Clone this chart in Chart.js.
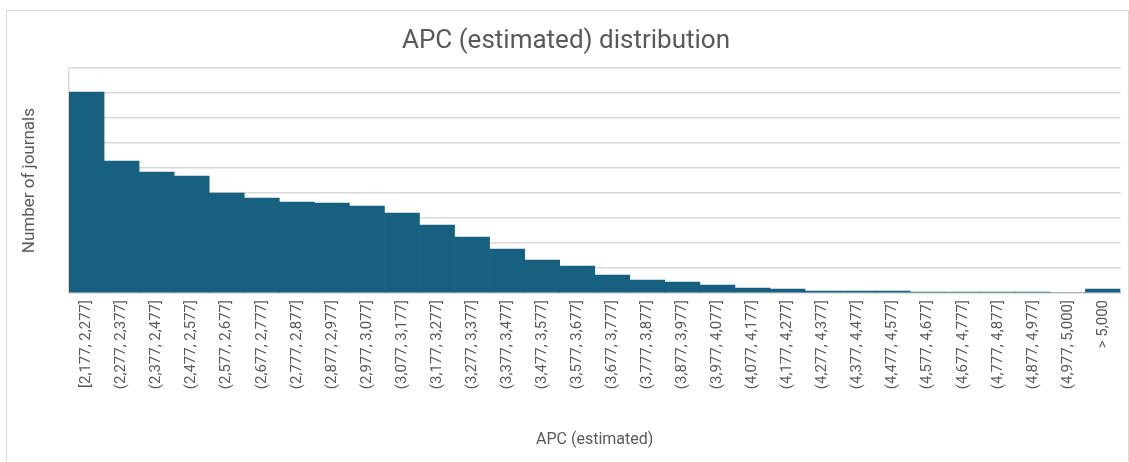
<!DOCTYPE html>
<html>
<head>
<meta charset="utf-8">
<script src="https://cdn.jsdelivr.net/npm/chart.js@4.4.0/dist/chart.umd.min.js"></script>
<style>
  html, body { margin: 0; padding: 0; background: #fff; }
  #box { position: absolute; left: 6px; top: 10px; width: 1121px; height: 450px; border: 1px solid #d9d9d9; border-bottom: none; }
  #box canvas { display: block; }
</style>
</head>
<body>
<div id="box"><canvas id="apcChart" width="1121" height="450"></canvas></div>
<script>
// bins of the estimated APC
const bins = [
  '[2,177, 2,277]', '(2,277, 2,377]', '(2,377, 2,477]', '(2,477, 2,577]', '(2,577, 2,677]',
  '(2,677, 2,777]', '(2,777, 2,877]', '(2,877, 2,977]', '(2,977, 3,077]', '(3,077, 3,177]',
  '(3,177, 3,277]', '(3,277, 3,377]', '(3,377, 3,477]', '(3,477, 3,577]', '(3,577, 3,677]',
  '(3,677, 3,777]', '(3,777, 3,877]', '(3,877, 3,977]', '(3,977, 4,077]', '(4,077, 4,177]',
  '(4,177, 4,277]', '(4,277, 4,377]', '(4,377, 4,477]', '(4,477, 4,577]', '(4,577, 4,677]',
  '(4,677, 4,777]', '(4,777, 4,877]', '(4,877, 4,977]', '(4,977, 5,000]', '> 5,000'
];

// number of journals per bin
const journals = [
  201, 132, 121, 117, 100, 95, 91, 90, 87, 80,
  68, 56, 44, 33, 27, 18, 13, 11, 8, 5,
  4, 2, 2, 2, 1, 1, 1, 1, 0, 4
];

const yMax = 225;
const yStep = 25;

const grey = '#595959';

new Chart(document.getElementById('apcChart'), {
  type: 'bar',
  data: {
    labels: bins,
    datasets: [{
      label: 'Number of journals',
      data: journals,
      backgroundColor: '#17607f',
      borderWidth: 0,
      barPercentage: 1,
      categoryPercentage: 1
    }]
  },
  options: {
    responsive: false,
    animation: false,
    layout: { padding: { left: 0, right: 3, top: 0, bottom: 0 } },
    plugins: {
      legend: { display: false },
      tooltip: { enabled: false },
      title: {
        display: true,
        text: 'APC (estimated) distribution',
        color: grey,
        font: { family: 'Roboto', size: 26, weight: 'normal' },
        padding: { top: 15, bottom: 11 }
      }
    },
    scales: {
      x: {
        grid: { display: false, drawTicks: false },
        border: { display: true, color: '#d9d9d9', width: 1.5 },
        ticks: {
          color: grey,
          font: { family: 'Roboto', size: 15 },
          minRotation: 90,
          maxRotation: 90,
          padding: 7,
          autoSkip: false
        },
        title: {
          display: true,
          text: 'APC (estimated)',
          color: grey,
          font: { family: 'Roboto', size: 16 },
          padding: { top: 0, bottom: 11 }
        },
        afterFit: (scale) => { scale.height = 168; }
      },
      y: {
        min: 0,
        max: yMax,
        grid: { color: '#d9d9d9', lineWidth: 1.5, drawTicks: false },
        border: { display: true, color: '#d9d9d9', width: 1.5 },
        ticks: { display: false, stepSize: yStep },
        title: {
          display: true,
          text: 'Number of journals',
          color: grey,
          font: { family: 'Roboto', size: 17 },
          padding: { top: 13, bottom: 0 }
        },
        afterFit: (scale) => { scale.width = 62; }
      }
    }
  }
});
</script>
</body>
</html>
